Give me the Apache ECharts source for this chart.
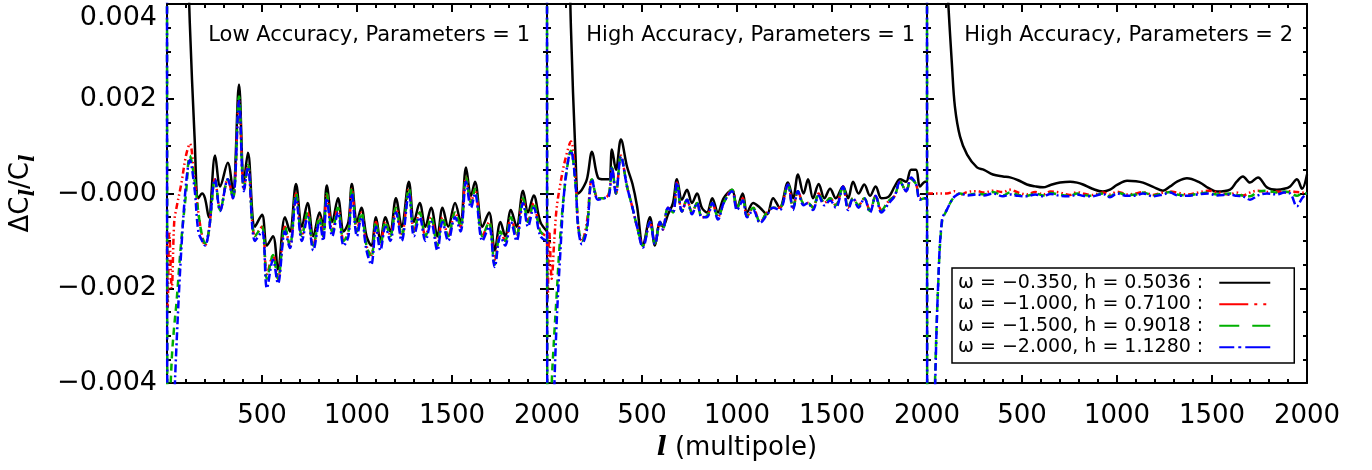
<!DOCTYPE html>
<html>
<head>
<meta charset="utf-8">
<title>Delta C_l / C_l</title>
<script src="https://cdn.jsdelivr.net/npm/echarts@6/dist/echarts.min.js"></script>
<style>
  html, body { margin: 0; padding: 0; background: #fff; }
  #main { width: 1372px; height: 470px; }
</style>
</head>
<body>
<div id="main"></div>
<script>
// all curve values are ΔC_l/C_l in units of 1e-4
var Y_UNIT = 1e-4;

var panelTitles = ['Low Accuracy, Parameters = 1', 'High Accuracy, Parameters = 1', 'High Accuracy, Parameters = 2'];
var omegas = ['−0.350', '−1.000', '−1.500', '−2.000'];
var hubbles = ['0.5036', '0.7100', '0.9018', '1.1280'];
var yTickValues = [-40, -20, 0, 20, 40];
var yTickLabels = ['−0.004', '−0.002', '−0.000', '0.002', '0.004'];
var xTickLabels = ['500', '1000', '1500', '2000'];

// panel 1 : low accuracy, 1 parameter
var p1L = [0, 4, 12, 25, 38, 50, 75, 100, 120, 145,
  165, 185, 200, 220, 253, 280, 320, 347, 379, 405,
  426, 463, 500, 526, 558, 584, 621, 647, 679, 710,
  740, 770, 803, 822, 841, 870, 900, 930, 955, 973,
  1000, 1023, 1050, 1075, 1100, 1123, 1150, 1175, 1205, 1235,
  1273, 1300, 1330, 1360, 1390, 1423, 1450, 1480, 1516, 1545,
  1574, 1600, 1621, 1660, 1695, 1725, 1755, 1780, 1810, 1840,
  1874, 1900, 1930, 1965, 2000];
var p1Black = [80, 80, 80, 80, 80, 80, 80, 60, 36, 12,
  -1, 0, -1, -5, 8, 1.5, 6.5, 0.5, 23, 2.5,
  8.6, -7, -4.5, -11, -9, -16, -5, -8, 2, -7,
  -2, -9, -4, -7, 1.7, -6, -1, -8, -6, 2,
  -6, -3, -9, -11, -5, -10, -5, -8, -1, -7,
  2.5, -6, -2, -7, -3, -9, -3, -7, -2, -6,
  5.5, -0.5, 2.5, -7, -4, -12, -6, -9, -3.5, -7,
  0.6, -4, -0.4, -6, -8];
var p1Red = [-8, -24, -8, -20, -6, -3, 2, 8, 10.5, 3,
  -4, -9, -11, -8, 3, -3.5, 3, -1, 19.5, 1,
  6, -9, -7, -17, -13, -18, -7, -11, 0, -9,
  -4, -11, -5, -9, 0, -8, -3, -10, -8, 1,
  -8, -4, -11, -13, -6, -11, -6, -9, -3, -9,
  1, -8, -4, -9, -5, -11, -5, -9, -4, -7,
  3.5, -2, 1, -9, -6, -14, -8, -10, -5, -9,
  -1, -6, -2, -8, -9];
var p1Green = [80, -80, -50, -35, -28, -23, -10, 0, 8, 3,
  -4, -9, -10.5, -8, 3, -3.5, 3, -1, 20.5, 1,
  6, -9, -7, -18, -13, -18, -7, -11, 0, -9,
  -4, -11, -5, -9, 0, -8, -3, -10, -8, 1,
  -8, -4, -11, -13.5, -6, -11, -6, -9, -3, -9,
  1, -8, -4, -9, -5, -11, -5, -9, -4, -7,
  3.5, -2, 1, -9, -6, -15, -8, -10, -5, -9,
  -1, -6, -2, -8, -9];
var p1Blue = [80, -80, -80, -75, -45, -32, -12, 2, 7, 1,
  -8, -10, -11, -8, 3, -3.7, 3, -1, 19.5, 0.5,
  5.6, -10, -8, -20, -14, -19, -8, -11.5, -1, -10,
  -5, -12, -6, -10, -1, -9, -4, -11, -9, 0,
  -9, -5, -12, -15, -7, -12, -7, -10, -4, -10,
  0, -9, -5, -10, -6, -12, -6, -10, -5, -8,
  2.5, -3, 0, -10, -7, -15.5, -9, -11, -6, -10,
  -2, -7, -3, -9, -10];

// panel 2 : high accuracy, 1 parameter
var p2L = [0, 4, 12, 25, 38, 50, 68, 95, 126, 150,
  165, 184, 210, 237, 268, 300, 326, 342, 363, 389,
  421, 450, 474, 505, 542, 568, 595, 610, 637, 663,
  684, 710, 737, 763, 790, 815, 842, 870, 900, 930,
  974, 1000, 1030, 1053, 1085, 1121, 1158, 1190, 1225, 1268,
  1295, 1321, 1350, 1374, 1400, 1430, 1460, 1490, 1520, 1558,
  1585, 1611, 1640, 1670, 1700, 1730, 1760, 1800, 1830, 1858,
  1890, 1916, 1942, 1963, 1990, 2000];
var p2Black = [80, 80, 80, 80, 80, 80, 80, 80, 35, 8,
  0, 0.8, 3, 8.8, 3.4, 3, 3, 9.3, 5, 11.4,
  5.7, 2, -2.7, -11, -5, -11, -6, -7, -4.4, -2,
  3, -1.3, 0.8, -2, 0, -3, -4, -1, -4, -1,
  0.8, -3, 0, -4, -2, -3, -4.4, -1, -3, 2.3,
  -1, 4, 0, 3, -1, 2, -1, 1, -1, 1.5,
  -1, 2.5, 0, 1.9, -0.5, 1.5, -1, -0.6, 1.5, 3,
  2.5, 5, 5, 1.5, 2.5, 2.5];
var p2Red = [-6, -22, -8, -18, -10, -3.4, 1.5, 7, 11, 3,
  -7, -10, -6, 3, -1, -1, 0, 5.5, 0, 8,
  1.5, -3, -7, -11, -6, -10.5, -6, -7.6, -3, -4,
  2.3, -3.8, -1.3, -4, -2, -5, -4.8, -2, -5, -2,
  0.8, -3, -1, -4.8, -3, -6, -4, -3, -3, 1.9,
  -3, 0.5, -2, -2, -3, 0, -2, -1, -2.5, 1.5,
  -3, -1, -2.5, -1, -3.7, -0.5, -3.5, -1.5, -0.5, 2.5,
  0.5, 3, 2, -1, -1, -1];
var p2Green = [80, -80, -60, -40, -30, -22, -10, 2, 9, 2,
  -7, -10, -7, 3, -1, -1, 0, 5.5, 0, 8,
  1.5, -3, -7, -11, -6, -10.5, -6, -7.6, -3, -4,
  2.3, -3.8, -1.3, -4, -2, -5, -4.8, -2, -5, -2,
  0.8, -3, -1, -4.8, -3, -6, -4, -3, -3, 1.9,
  -3, 0.5, -2, -2, -3, 0, -2, -1, -2.5, 1.5,
  -3, -1, -2.5, -1, -3.7, -0.5, -3.5, -1.5, -0.5, 2.5,
  0.5, 3, 2, -1.3, -1, -1];
var p2Blue = [80, -80, -80, -70, -42, -28, -14, 2.3, 9, 2,
  -7.6, -10.7, -7.6, 3, -1.3, -1, -0.5, 5.5, 0, 7.8,
  1.5, -3, -7, -11.4, -6, -10.7, -6, -7.6, -3, -4,
  2.3, -3.8, -1.3, -4.4, -2, -5, -5, -2, -5.5, -2,
  0.5, -3.5, -1.5, -5, -3.5, -6.2, -4.5, -3, -3.5, 1.9,
  -3.5, 0.5, -2.5, -2, -3.5, -0.5, -2.5, -1.5, -3, 1.5,
  -3.5, -1, -3, -1, -4, -0.5, -4, -2, -0.5, 2.5,
  0.5, 3.4, 2, -1.3, -1, -1];

// panel 3 : high accuracy, 2 parameters
var p3L = [0, 3, 25, 42, 58, 79, 105, 132, 147, 174,
  211, 263, 300, 347, 400, 437, 480, 526, 570, 611,
  650, 700, 753, 790, 821, 870, 926, 963, 1000, 1053,
  1100, 1137, 1190, 1242, 1280, 1316, 1368, 1437, 1480, 1526,
  1595, 1630, 1663, 1700, 1742, 1789, 1842, 1880, 1911, 1947,
  1974, 2000];
var p3Black = [80, 80, 80, 80, 80, 80, 46, 26.7, 18.3, 12,
  8.2, 5.5, 5, 4, 3.6, 3.4, 2.8, 1.9, 1.5, 1.3,
  1.8, 2.3, 2.5, 2.3, 1.9, 1.0, 0.4, 0.8, 1.8, 2.7,
  2.6, 2.3, 1.4, 0.6, 1.5, 2.5, 3.2, 2.3, 1.2, 0.4,
  0.8, 2.5, 3.6, 2.3, 3.4, 1.3, 0.8, 1.0, 1.5, 3,
  1, 4];
var p3Red = [0, 0, 0, 0, 0, 0, 0, 0.3, 0.5, -0.3,
  0.3, 0.5, 0.2, 0.6, 0.3, 0.8, 0.2, -0.2, 0.3, -0.2,
  0.4, 0.2, -0.3, 0.3, 0, -0.3, 0.2, -0.2, 0.4, -0.2,
  0, 0.3, -0.3, 0.2, 0.4, 0.2, -0.2, 0.3, 0.6, 0.3,
  -0.2, 0.2, -0.4, 0.2, 0.6, 0.3, 0.4, 0.2, 0.5, 0.3,
  0.2, 0];
var p3Green = [80, -80, -70, -40, -20, -6, -3.4, -1.3, -0.6, 0,
  -0.3, 0, -0.2, 0.3, -0.4, 0.2, -0.3, -0.5, 0, -0.4,
  0.1, -0.3, -0.5, 0, -0.3, -0.5, 0, -0.6, 0.2, -0.3,
  -0.2, 0.2, -0.4, 0, 0.3, -0.2, -0.4, 0, 0.2, -0.2,
  0, -0.3, -0.4, -0.6, 0.4, 0.6, 0.2, 0.4, 0.2, -0.5,
  0, 0];
var p3Blue = [80, -80, -75, -42, -20, -5.5, -3.4, -1.3, -0.6, 0,
  -0.4, -0.2, -0.4, 0, -0.6, -0.2, -0.5, -0.6, -0.2, -0.6,
  -0.1, -0.5, -0.6, -0.2, -0.5, -0.6, -0.1, -0.8, 0, -0.5,
  -0.4, 0, -0.6, -0.2, 0.2, -0.4, -0.5, -0.1, 0, -0.4,
  -0.2, -0.5, -0.6, -1.3, -0.4, 0, -0.2, 0.2, 0, -2.7,
  -1, 0];

var panelL = [p1L, p2L, p3L];
var panelValues = [
  [p1Black, p1Red, p1Green, p1Blue],
  [p2Black, p2Red, p2Green, p2Blue],
  [p3Black, p3Red, p3Green, p3Blue]
];
var seriesNames = omegas.map(function (w, i) {
  return 'ω = ' + w + ', h = ' + hubbles[i] + ' :';
});

var lineColors = ['#000000', '#ff0000', '#00b000', '#0000ff'];
var lineDash = ['solid', [6, 3, 1.5, 3, 1.5, 3], [7, 5], [8, 3, 2, 3]];
var legendDash = ['solid', [29, 6, 3, 6, 3, 4], [20, 13, 18], [15, 4, 3, 4, 25]];
var panelLeft = [167, 547, 927];
var titleRight = [842, 457, 79];
var font = 'DejaVu Sans';

function frameAxis(extra) {
  var base = {
    type: 'value',
    axisLine: { show: true, onZero: false, lineStyle: { color: '#000', width: 2 } },
    axisTick: { show: true, inside: true, length: 8, lineStyle: { color: '#000', width: 2 } },
    minorTick: { show: true, length: 4, lineStyle: { color: '#000', width: 2 } },
    splitLine: { show: false },
    minorSplitLine: { show: false },
    axisLabel: { show: false }
  };
  for (var k in extra) base[k] = extra[k];
  return base;
}

var xAxes = [], yAxes = [];
panelLeft.forEach(function (left, p) {
  var bottom = frameAxis({
    gridIndex: p, position: 'bottom', min: 0, max: 2000, interval: 500,
    axisLabel: {
      show: true, margin: 20, color: '#000', fontSize: 26, fontFamily: font,
      formatter: function (v) { return xTickLabels.indexOf(String(v)) >= 0 ? String(v) : ''; }
    }
  });
  bottom.minorTick.splitNumber = 5;
  if (p === 1) {
    bottom.name = '{l|l} (multipole)';
    bottom.nameLocation = 'middle';
    bottom.nameGap = 52;
    bottom.nameTextStyle = {
      color: '#000', fontSize: 26, fontFamily: font,
      rich: { l: { fontSize: 26, fontFamily: 'DejaVu Serif', fontStyle: 'italic', fontWeight: 'bold', color: '#000' } }
    };
  }
  var top = frameAxis({ gridIndex: p, position: 'top', min: 0, max: 2000, interval: 500 });
  top.minorTick.splitNumber = 5;
  xAxes.push(bottom, top);

  var leftAx = frameAxis({
    gridIndex: p, position: 'left', min: -40 * Y_UNIT, max: 40 * Y_UNIT, interval: 20 * Y_UNIT
  });
  leftAx.axisTick.length = 7;
  leftAx.minorTick.splitNumber = 4;
  if (p === 0) {
    leftAx.axisLabel = {
      show: true, margin: 10, color: '#000', fontSize: 27, fontFamily: font,
      verticalAlignMaxLabel: 'top',
      formatter: function (v) {
        var i = yTickValues.indexOf(Math.round(v / Y_UNIT));
        return i >= 0 ? yTickLabels[i] : '';
      }
    };
    leftAx.name = '{m|ΔC}{s|l}{m|/C}{s|l}';
    leftAx.nameLocation = 'middle';
    leftAx.nameRotate = 90;
    leftAx.nameGap = 128;
    leftAx.nameTextStyle = {
      color: '#000', fontSize: 26, fontFamily: font,
      rich: {
        m: { fontSize: 26, fontFamily: font, color: '#000' },
        s: { fontSize: 20, fontFamily: 'DejaVu Serif', fontStyle: 'italic', fontWeight: 'bold', color: '#000', padding: [15, 0, 0, 0] }
      }
    };
  }
  var rightAx = frameAxis({
    gridIndex: p, position: 'right', min: -40 * Y_UNIT, max: 40 * Y_UNIT, interval: 20 * Y_UNIT
  });
  rightAx.axisTick.length = 7;
  rightAx.minorTick.splitNumber = 4;
  yAxes.push(leftAx, rightAx);
});

var series = [];
panelL.forEach(function (ls, p) {
  panelValues[p].forEach(function (vals, s) {
    series.push({
      name: seriesNames[s],
      type: 'line',
      xAxisIndex: 2 * p,
      yAxisIndex: 2 * p,
      data: ls.map(function (l, i) { return [l, vals[i] * Y_UNIT]; }),
      symbol: 'none',
      showSymbol: false,
      smooth: 0.35,
      clip: true,
      lineStyle: { color: lineColors[s], width: 2.5, type: lineDash[s] },
      itemStyle: { color: lineColors[s] },
      z: 2 + s
    });
  });
});

var chart = echarts.init(document.getElementById('main'));
chart.setOption({
  animation: false,
  backgroundColor: '#fff',
  textStyle: { fontFamily: font },
  title: panelTitles.map(function (t, i) {
    return {
      text: t, right: titleRight[i], top: 25, padding: 0,
      textStyle: { fontSize: 21, fontWeight: 'normal', color: '#000', fontFamily: font }
    };
  }),
  grid: panelLeft.map(function (x) {
    return { left: x, top: 4, width: 380, height: 379 };
  }),
  xAxis: xAxes,
  yAxis: yAxes,
  legend: {
    orient: 'vertical', left: 952, top: 268, align: 'right',
    padding: [5, 23, 6, 6], itemGap: 2, itemWidth: 51, itemHeight: 14,
    borderColor: '#000', borderWidth: 1.5, backgroundColor: '#fff',
    itemStyle: { opacity: 0 },
    textStyle: { fontSize: 19, fontFamily: font, color: '#000', padding: [0, 11, 0, 0], lineHeight: 19.5 },
    data: seriesNames.map(function (n, s) {
      return { name: n, lineStyle: { color: lineColors[s], width: 2, type: legendDash[s] } };
    })
  },
  series: series
});
</script>
</body>
</html>
